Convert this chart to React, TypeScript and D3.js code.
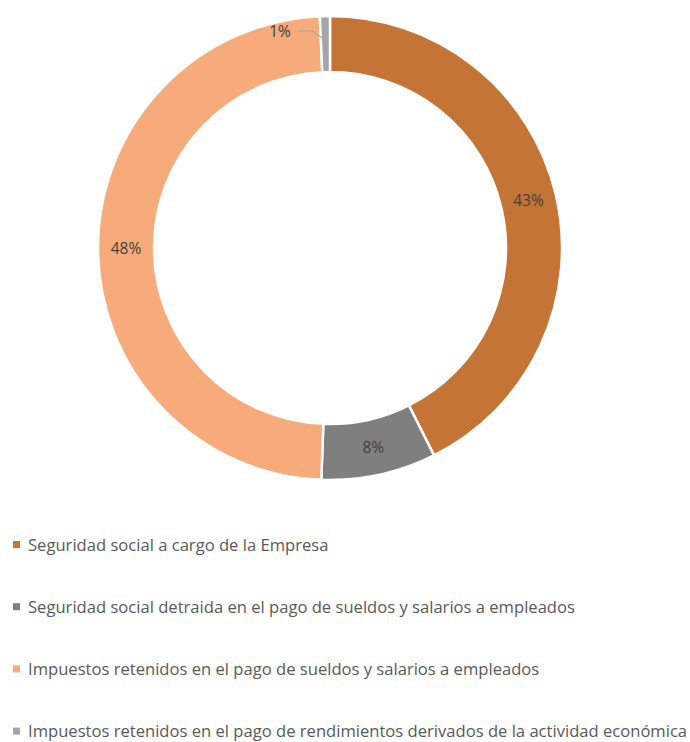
import React from 'react';
import * as d3 from 'd3';

const categories = [
  'Seguridad social a cargo de la Empresa',
  'Seguridad social detraida en el pago de sueldos y salarios a empleados',
  'Impuestos retenidos en el pago de sueldos y salarios a empleados',
  'Impuestos retenidos en el pago de rendimientos derivados de la actividad económica',
];
const values = [42.6, 8.0, 48.7, 0.7];
const labels = ['43%', '8%', '48%', '1%'];
const colors = ['#C47535', '#7F7F7F', '#F7AA7A', '#A5A5A5'];

const width = 690;
const height = 742;
const cx = 330;
const cy = 248;
const outerR = 232;
const innerR = 176;

const App: React.FC = () => {
  const pie = d3.pie<number>().sort(null).value(d => d);
  const arcs = pie(values);
  const arc = d3.arc<d3.PieArcDatum<number>>().innerRadius(innerR).outerRadius(outerR);
  const mid = (innerR + outerR) / 2;

  const font = '"Open Sans", Lato, sans-serif';

  return (
    <svg width={width} height={height} style={{ position: 'absolute', left: 0, top: 0 }}>
      <rect width={width} height={height} fill="#fff" />
      <g transform={`translate(${cx},${cy})`}>
        {arcs.map((a, i) => (
          <path key={i} d={arc(a) || ''} fill={colors[i]} stroke="#fff" strokeWidth={2.5} />
        ))}
        {arcs.map((a, i) => {
          if (i === 3) return null;
          const ang = (a.startAngle + a.endAngle) / 2;
          const x = mid * Math.sin(ang);
          const y = -mid * Math.cos(ang);
          return (
            <text key={i} x={x} y={y} dy="0.35em" textAnchor="middle" fontFamily={font}
              fontSize={15.5} fill="#404040">{labels[i]}</text>
          );
        })}
        {(() => {
          const a = arcs[3];
          const ang = (a.startAngle + a.endAngle) / 2;
          const r = outerR - 24;
          const px = r * Math.sin(ang);
          const py = -r * Math.cos(ang);
          return (
            <g>
              <polyline points={`${-32},${-217} ${-18},${-217} ${px},${py}`} fill="none" stroke="#A5A5A5" strokeWidth={1.2} />
              <text x={-50} y={-216} dy="0.35em" textAnchor="middle" fontFamily={font} fontSize={15.5} fill="#404040">{labels[3]}</text>
            </g>
          );
        })()}
      </g>
      {categories.map((c, i) => {
        const y = 545 + i * 62.2;
        return (
          <g key={i}>
            <rect x={13} y={y - 4} width={7} height={7} fill={colors[i]} />
            <text x={28} y={y} dy="0.35em" fontFamily={font} fontSize={16.6} fill="#595959">{c}</text>
          </g>
        );
      })}
    </svg>
  );
};

export default App;
